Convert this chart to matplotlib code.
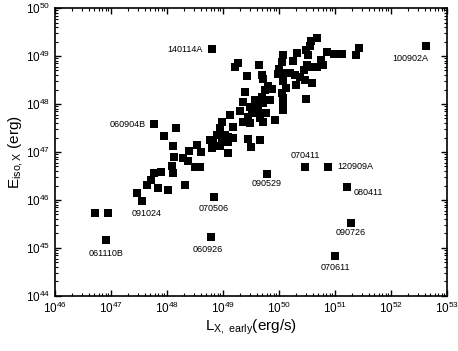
import numpy as np
import matplotlib
matplotlib.use("Agg")
import matplotlib.pyplot as plt
from matplotlib.ticker import LogLocator, NullFormatter

plt.rcParams['font.family'] = ['Liberation Sans', 'DejaVu Sans']
plt.rcParams['mathtext.fontset'] = 'custom'
plt.rcParams['mathtext.rm'] = 'Liberation Sans'
plt.rcParams['mathtext.it'] = 'Liberation Sans'

# log10 of L_X,early (erg/s) and E_iso,X (erg) for unlabeled bursts
log_L = [46.714, 46.946, 47.464, 47.643, 47.714, 47.768, 47.893, 47.839, 48.018, 48.107,
         48.321, 48.500, 48.589, 48.161, 47.946, 48.107, 48.125, 48.089, 48.393, 48.286,
         48.375, 48.536, 48.607, 48.768, 48.821, 48.804, 48.946, 48.893, 49.036, 49.089,
         49.179, 48.982, 49.089, 49.089, 48.946, 49.179, 48.982, 49.357, 49.482, 49.125,
         49.304, 49.482, 49.625, 49.661, 49.929, 49.393, 49.357, 49.571, 49.696, 49.839,
         49.446, 49.500, 49.661, 49.518, 49.446, 49.589, 49.429, 49.268, 49.214, 49.643,
         49.696, 49.714, 49.768, 49.714, 49.714, 49.750, 49.804, 49.875, 50.054, 50.071,
         50.071, 50.071, 50.125, 50.304, 50.482, 50.464, 50.589, 50.375, 50.286, 50.196,
         50.089, 49.982, 50.071, 50.000, 50.054, 50.071, 50.250, 50.321, 50.482, 50.518,
         50.554, 50.571, 50.679, 50.857, 50.982, 51.125, 51.375, 51.429, 50.750, 50.786,
         50.679, 50.589, 50.500, 50.446]
log_E = [45.729, 45.729, 46.146, 46.313, 46.417, 46.563, 46.583, 46.250, 46.208, 46.563,
         46.313, 46.688, 46.688, 47.500, 47.333, 47.125, 46.896, 46.708, 47.021, 46.875,
         46.813, 47.146, 47.000, 47.250, 47.208, 47.083, 47.125, 47.354, 47.354, 47.313,
         47.292, 47.292, 47.208, 46.979, 47.500, 47.521, 47.625, 47.625, 47.604, 47.771,
         47.854, 47.938, 47.875, 47.708, 47.667, 48.250, 48.042, 48.083, 48.146, 48.083,
         47.271, 47.104, 47.250, 47.813, 47.729, 47.958, 48.583, 48.854, 48.771, 48.813,
         48.604, 48.521, 47.813, 47.625, 48.021, 48.292, 48.375, 48.313, 48.229, 48.125,
         48.000, 47.875, 48.333, 48.396, 48.104, 48.500, 48.438, 48.563, 48.604, 48.646,
         48.646, 48.625, 48.479, 48.729, 48.875, 49.021, 48.896, 49.063, 49.125, 49.021,
         49.208, 49.313, 49.375, 49.083, 49.042, 49.042, 49.021, 49.167, 48.917, 48.813,
         48.771, 48.771, 48.813, 48.708]

# labeled bursts
names = ['061110B', '091024', '070506', '060926', '060904B', '140114A', '100902A',
         '070411', '120909A', '080411', '090529', '090726', '070611']
name_logL = [46.911, 47.554, 48.839, 48.786, 47.768, 48.804, 52.625,
             50.464, 50.875, 51.214, 49.786, 51.286, 51.000]
name_logE = [45.167, 45.979, 46.063, 45.229, 47.583, 49.146, 49.208,
             46.688, 46.688, 46.271, 46.542, 45.521, 44.833]
# label placement (offset in points, alignment)
label_pos = {
    '061110B': ((0, -10), 'center'),
    '091024': ((3, -9), 'center'),
    '070506': ((0, -8), 'center'),
    '060926': ((-2, -9), 'center'),
    '060904B': ((-6, 0), 'right'),
    '140114A': ((-7, 0), 'right'),
    '100902A': ((-11, -9), 'center'),
    '070411': ((0, 8), 'center'),
    '120909A': ((7, 0), 'left'),
    '080411': ((5, -4), 'left'),
    '090529': ((0, -7), 'center'),
    '090726': ((0, -7), 'center'),
    '070611': ((0, -8), 'center'),
}

fig = plt.figure(figsize=(4.58, 3.51), dpi=100)
ax = fig.add_axes([0.120, 0.157, 0.856, 0.820])

L = 10.0 ** np.array(log_L)
E = 10.0 ** np.array(log_E)
ax.plot(L, E, 's', color='black', markersize=5.4, markeredgewidth=0)
nL = 10.0 ** np.array(name_logL)
nE = 10.0 ** np.array(name_logE)
ax.plot(nL, nE, 's', color='black', markersize=5.4, markeredgewidth=0)
for n, x, y in zip(names, nL, nE):
    off, ha = label_pos[n]
    ax.annotate(n, (x, y), xytext=off, textcoords='offset points',
                ha=ha, va='center', fontsize=6.5)

ax.set_xscale('log')
ax.set_yscale('log')
ax.set_xlim(1e46, 1e53)
ax.set_ylim(1e44, 1e50)
ax.xaxis.set_major_locator(LogLocator(base=10, numticks=20))
ax.yaxis.set_major_locator(LogLocator(base=10, numticks=20))
ax.xaxis.set_minor_locator(LogLocator(base=10, subs=np.arange(2, 10), numticks=100))
ax.yaxis.set_minor_locator(LogLocator(base=10, subs=np.arange(2, 10), numticks=100))
ax.xaxis.set_minor_formatter(NullFormatter())
ax.yaxis.set_minor_formatter(NullFormatter())
ax.tick_params(which='both', direction='in', top=True, right=True, labelsize=8.5)
ax.tick_params(which='major', length=4, width=1)
ax.tick_params(which='minor', length=2, width=0.8)
for s in ax.spines.values():
    s.set_linewidth(1.2)

ax.set_xlabel(r'L$_{\mathrm{X,\ early}}$(erg/s)', fontsize=11, labelpad=1)
ax.set_ylabel(r'E$_{\mathrm{iso,X}}$ (erg)', fontsize=11, labelpad=1)

fig.savefig('out.png', dpi=100)
